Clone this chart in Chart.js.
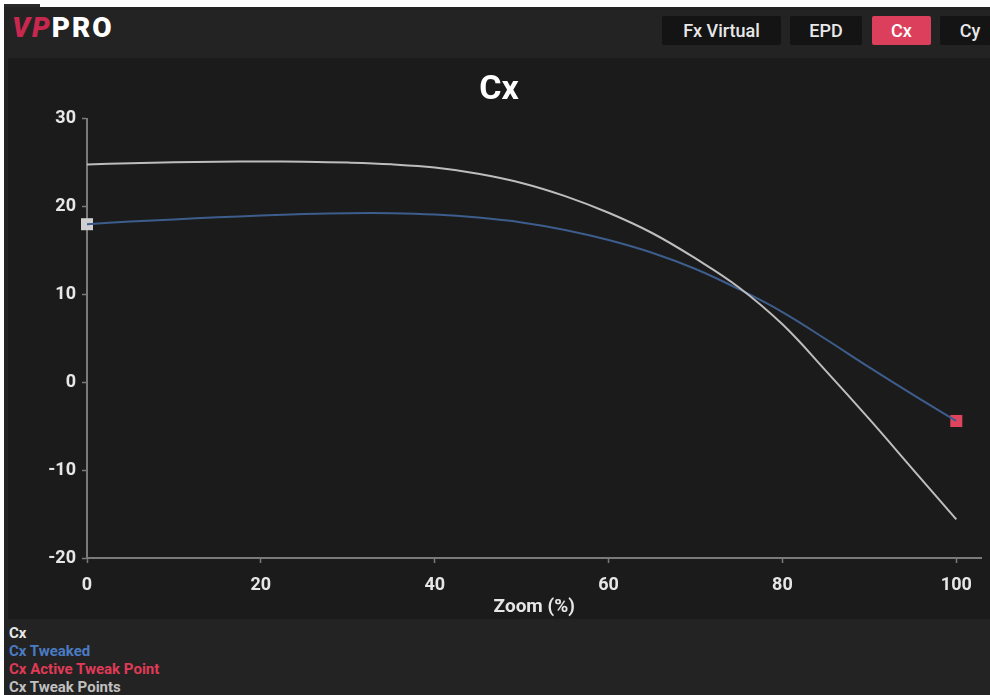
<!DOCTYPE html>
<html>
<head>
<meta charset="utf-8">
<script src="https://cdn.jsdelivr.net/npm/chart.js@4.4.1/dist/chart.umd.min.js"></script>
<style>
    html, body { margin: 0; padding: 0; background: #fff; overflow: hidden; }
    body { width: 990px; height: 695px; position: relative; font-family: Roboto, "Noto Sans", sans-serif; }
    .page { position: absolute; left: 4px; top: 7px; right: 0; bottom: 0; background: #232323; }
    .tab-bit { position: absolute; left: 4px; top: 4px; width: 36px; height: 3px; background: #2a2a2a; }
    .logo { position: absolute; left: 12px; top: 11px; font-size: 28px; font-weight: 900; letter-spacing: 2px; color: #fff; }
    .logo .vp { color: #c8284f; font-style: italic; }
    .btn { position: absolute; top: 16px; height: 29px; line-height: 29px; background: #141414; color: #e8e8e8;
           font-size: 18px; font-weight: 500; text-align: center; border-radius: 2px; }
    .btn.active { background: #dc3f5b; color: #fff; }
    .panel { position: absolute; left: 8px; top: 58px; width: 982px; height: 561px; background: #1b1b1b; }
    .legend { position: absolute; left: 9px; top: 624px; font-size: 15px; font-weight: bold; line-height: 18px; }
</style>
</head>
<body>
<div class="page"></div>
<div class="tab-bit"></div>
<div class="logo"><span class="vp">VP</span>PRO</div>
<div class="btn" style="left:662px;width:119px">Fx Virtual</div>
<div class="btn" style="left:790px;width:72px">EPD</div>
<div class="btn active" style="left:872px;width:59px">Cx</div>
<div class="btn" style="left:940px;width:60px">Cy</div>
<div class="panel"><canvas id="cx-chart"></canvas></div>
<div class="legend" id="cx-legend"></div>

<script>
// Zoom positions and curve values
const zoomPct = [0, 5, 10, 15, 20, 25, 30, 35, 40, 45, 50, 55, 60, 65, 70, 75, 80, 85, 90, 95, 100];
const cxValues = [24.8, 24.95, 25.05, 25.12, 25.15, 25.12, 25.02, 24.82, 24.45, 23.75, 22.7, 21.2, 19.3, 17.0, 14.1, 10.8, 6.6, 1.3, -4.2, -9.9, -15.6];
const cxTweaked = [18.0, 18.3, 18.55, 18.78, 18.98, 19.15, 19.25, 19.25, 19.1, 18.75, 18.2, 17.35, 16.2, 14.75, 12.9, 10.6, 8.0, 4.9, 1.7, -1.4, -4.4];
const tweakX = [0], tweakY = [18.0];
const activeX = [100], activeY = [-4.4];
const xTicks = [0, 20, 40, 60, 80, 100];
const yTicks = [-20, -10, 0, 10, 20, 30];
const legendColors = ["#e8e8e8", "#4a7bc4", "#e03a57", "#c0c0c0"];

const toPoints = (xs, ys) => xs.map((x, i) => ({ x: x, y: ys[i] }));

Chart.defaults.font.family = "Roboto, 'Noto Sans', sans-serif";

const axisColor = "#7a7a7a";
const tickFont = { size: 18, weight: "bold" };

const ctx = document.getElementById("cx-chart").getContext("2d");
const chart = new Chart(ctx, {
    type: "line",
    data: {
        datasets: [
            {
                label: "Cx",
                data: toPoints(zoomPct, cxValues),
                borderColor: "#bdbdbd",
                borderWidth: 2,
                pointRadius: 0,
                tension: 0.4
            },
            {
                label: "Cx Tweaked",
                data: toPoints(zoomPct, cxTweaked),
                borderColor: "#3d5d8c",
                borderWidth: 2,
                pointRadius: 0,
                tension: 0.4
            },
            {
                label: "Cx Active Tweak Point",
                data: toPoints(activeX, activeY),
                showLine: false,
                pointStyle: "rect",
                pointRadius: 8.5,
                pointBorderWidth: 0,
                pointBackgroundColor: "#e0435c",
                clip: false
            },
            {
                label: "Cx Tweak Points",
                data: toPoints(tweakX, tweakY),
                showLine: false,
                pointStyle: "rect",
                pointRadius: 8.5,
                pointBorderWidth: 0,
                pointBackgroundColor: "#d0d0d0",
                clip: false
            }
        ]
    },
    options: {
        responsive: true,
        maintainAspectRatio: false,
        animation: false,
        layout: { padding: 0 },
        plugins: {
            legend: { display: false },
            tooltip: { enabled: false },
            title: {
                display: true,
                text: "Cx",
                color: "#ffffff",
                font: { size: 34, weight: "bold" },
                padding: { top: 12, bottom: 8 }
            }
        },
        scales: {
            x: {
                type: "linear",
                min: 0,
                max: 102.9,
                afterBuildTicks: axis => { axis.ticks = xTicks.map(v => ({ value: v })); },
                afterFit: scale => { scale.height = 61; },
                grid: { drawOnChartArea: false, color: axisColor, tickLength: 5, tickWidth: 1.5 },
                border: { color: axisColor, width: 2 },
                ticks: { color: "#e6e6e6", font: tickFont, padding: 12, maxRotation: 0 },
                title: {
                    display: true,
                    text: "Zoom (%)",
                    color: "#e6e6e6",
                    font: { size: 19, weight: "bold" },
                    padding: { top: 0, bottom: 0 }
                }
            },
            y: {
                min: -20,
                max: 30,
                afterBuildTicks: axis => { axis.ticks = yTicks.map(v => ({ value: v })); },
                afterFit: scale => { scale.width = 79; },
                grid: { drawOnChartArea: false, color: axisColor, tickLength: 5, tickWidth: 1.5 },
                border: { color: axisColor, width: 2 },
                ticks: { color: "#e6e6e6", font: tickFont, padding: 6 }
            }
        }
    }
});

// plain text legend under the panel
const legendEl = document.getElementById("cx-legend");
chart.data.datasets.forEach((ds, i) => {
    const row = document.createElement("div");
    row.textContent = ds.label;
    row.style.color = legendColors[i];
    legendEl.appendChild(row);
});
</script>
</body>
</html>
